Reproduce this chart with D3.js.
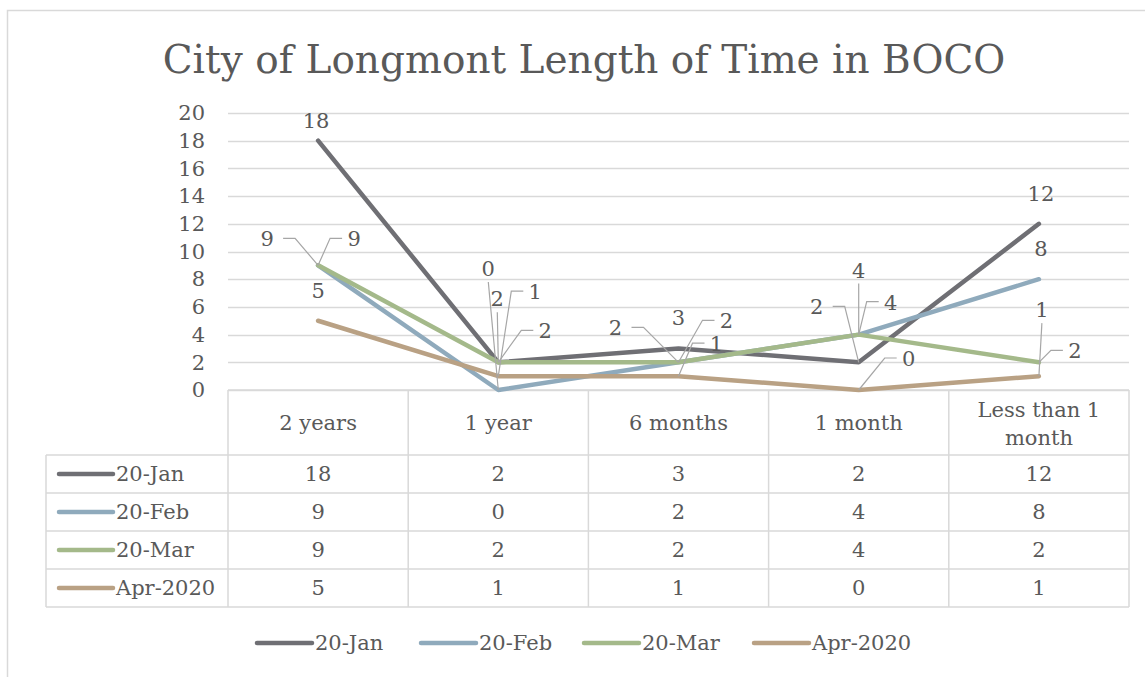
<!DOCTYPE html>
<html>
<head>
<meta charset="UTF-8" />
<title>City of Longmont Length of Time in BOCO</title>
<script src="https://d3js.org/d3.v7.min.js"></script>
<style>
  body { margin: 0; background: #fff; }
  svg text { font-family: "DejaVu Serif", serif; fill: #595959; }
</style>
</head>
<body>
<div id="chart"></div>
<script>
  const width = 1145, height = 677;

  // categories and series
  const categories = ["2 years", "1 year", "6 months", "1 month", "Less than 1 month"];
  const seriesNames = ["20-Jan", "20-Feb", "20-Mar", "Apr-2020"];
  const jan = [18, 2, 3, 2, 12];
  const feb = [9, 0, 2, 4, 8];
  const mar = [9, 2, 2, 4, 2];
  const apr = [5, 1, 1, 0, 1];
  const colors = ["#6f6f74", "#8faabc", "#a4b98a", "#b9a184"];
  const yTicks = [0, 2, 4, 6, 8, 10, 12, 14, 16, 18, 20];

  // data label offsets from the point: [dx, dy, leader] (0 none, 1 straight, 2 elbow)
  const janLabels = [[-2, -21, 0], [-1, -64, 1], [0, -31, 0], [-42, -56, 2], [2, -31, 0]];
  const febLabels = [[-51, -27, 2], [-10, -122, 1], [48, -42, 2], [0, -65, 1], [2, -31, 0]];
  const marLabels = [[36, -27, 2], [47, -32, 2], [-63, -35, 2], [32, -33, 2], [36, -12, 2]];
  const aprLabels = [[0, -31, 0], [37, -85, 2], [38, -33, 2], [50, -32, 2], [3, -67, 1]];

  const values = [jan, feb, mar, apr];
  const labels = [janLabels, febLabels, marLabels, aprLabels];

  const svg = d3.select('#chart').append('svg')
    .attr('width', width).attr('height', height);

  // chart frame
  svg.append('path').attr('d', `M7.5,${height} V10.5 H${width}`)
    .attr('fill', 'none').attr('stroke', '#d9d9d9').attr('stroke-width', 1.5);

  svg.append('text').attr('x', 584).attr('y', 73).attr('text-anchor', 'middle')
    .style('font-size', '39px').text('City of Longmont Length of Time in BOCO');

  const plotLeft = 228, plotRight = 1129, plotTop = 113, plotBottom = 390;
  const x = d3.scaleBand().domain(categories).range([plotLeft, plotRight]);
  const y = d3.scaleLinear().domain([0, 20]).range([plotBottom, plotTop]);
  const cx = c => x(c) + x.bandwidth() / 2;
  const fs = '21px';

  // gridlines
  svg.append('g').selectAll('line').data(yTicks).join('line')
    .attr('x1', plotLeft).attr('x2', plotRight)
    .attr('y1', d => Math.round(y(d)) + 0.5).attr('y2', d => Math.round(y(d)) + 0.5)
    .attr('stroke', '#d9d9d9').attr('stroke-width', 1.5);

  const yAxis = d3.axisLeft(y).tickValues(yTicks).tickSize(0).tickPadding(0);
  const gy = svg.append('g').attr('transform', 'translate(205,0)').call(yAxis);
  gy.select('.domain').remove();
  gy.selectAll('text').style('font-size', fs).style('font-family', '"DejaVu Serif", serif')
    .attr('fill', '#595959');

  // data table
  const rowH = 38, headTop = plotBottom, headBottom = 455, tableLeft = 46;
  const rowsBottom = headBottom + rowH * seriesNames.length;
  const tbl = svg.append('g').attr('stroke', '#d9d9d9').attr('stroke-width', 1.5);
  tbl.append('line').attr('x1', plotLeft).attr('x2', plotRight).attr('y1', headTop).attr('y2', headTop);
  d3.range(seriesNames.length + 1).forEach(i => {
    tbl.append('line').attr('x1', tableLeft).attr('x2', plotRight)
      .attr('y1', headBottom + i * rowH).attr('y2', headBottom + i * rowH);
  });
  categories.concat([null]).forEach(c => {
    const xx = c ? x(c) : plotRight;
    tbl.append('line').attr('x1', xx).attr('x2', xx).attr('y1', headTop).attr('y2', rowsBottom);
  });
  tbl.append('line').attr('x1', tableLeft).attr('x2', tableLeft).attr('y1', headBottom).attr('y2', rowsBottom);

  categories.forEach(c => {
    if (c === "Less than 1 month") {
      const t = svg.append('text').attr('text-anchor', 'middle').style('font-size', fs);
      t.append('tspan').attr('x', cx(c)).attr('y', 417).text('Less than 1');
      t.append('tspan').attr('x', cx(c)).attr('y', 445).text('month');
    } else {
      svg.append('text').attr('x', cx(c)).attr('y', 430).attr('text-anchor', 'middle')
        .style('font-size', fs).text(c);
    }
  });

  seriesNames.forEach((s, i) => {
    const ry = headBottom + i * rowH + rowH / 2;
    svg.append('line').attr('x1', 59).attr('x2', 113).attr('y1', ry).attr('y2', ry)
      .attr('stroke', colors[i]).attr('stroke-width', 4.5).attr('stroke-linecap', 'round');
    svg.append('text').attr('x', 116).attr('y', ry + 7).style('font-size', fs).text(s);
    values[i].forEach((v, j) => {
      svg.append('text').attr('x', cx(categories[j])).attr('y', ry + 7)
        .attr('text-anchor', 'middle').style('font-size', fs).text(v);
    });
  });

  // lines
  const line = d3.line().x((d, j) => cx(categories[j])).y(d => y(d));
  values.forEach((vals, i) => {
    svg.append('path').datum(vals).attr('d', line)
      .attr('fill', 'none').attr('stroke', colors[i]).attr('stroke-width', 4.5)
      .attr('stroke-linejoin', 'round').attr('stroke-linecap', 'round');
  });

  // data labels with leader lines
  const lab = svg.append('g');
  values.forEach((vals, i) => {
    vals.forEach((v, j) => {
      const px = cx(categories[j]), py = y(v);
      const [dx, dy, kind] = labels[i][j];
      const lx = px + dx, ly = py + dy;
      let lead = null;
      if (kind === 1) {
        lead = `M${lx},${ly + 14} L${px},${py}`;
      } else if (kind === 2) {
        lead = dx < 0
          ? `M${lx + 16},${ly} H${lx + 28} L${px},${py}`
          : `M${lx - 12},${ly} H${lx - 24} L${px},${py}`;
      }
      if (lead) {
        lab.append('path').attr('d', lead).attr('fill', 'none')
          .attr('stroke', '#a6a6a6').attr('stroke-width', 1.2);
      }
      lab.append('text').attr('x', lx).attr('y', ly + 8).attr('text-anchor', 'middle')
        .style('font-size', fs).text(v);
    });
  });

  // legend
  const legendX = [257, 421, 584, 754];
  seriesNames.forEach((s, i) => {
    svg.append('line').attr('x1', legendX[i]).attr('x2', legendX[i] + 55).attr('y1', 643).attr('y2', 643)
      .attr('stroke', colors[i]).attr('stroke-width', 4.5).attr('stroke-linecap', 'round');
    svg.append('text').attr('x', legendX[i] + 58).attr('y', 650).style('font-size', fs).text(s);
  });
</script>
</body>
</html>
